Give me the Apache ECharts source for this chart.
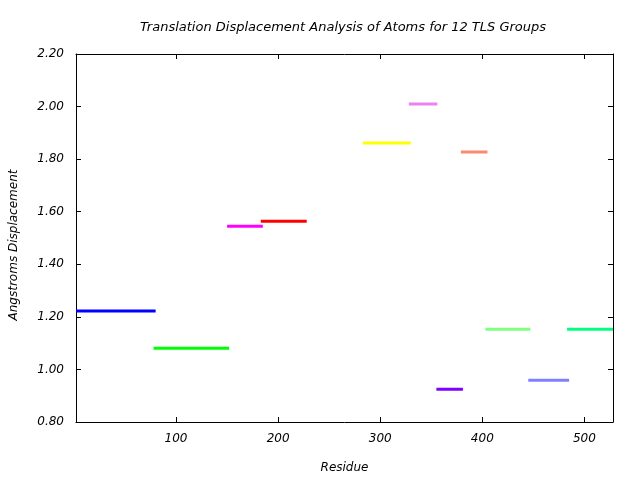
<!DOCTYPE html>
<html><head><meta charset="utf-8">
<script src="https://cdn.jsdelivr.net/npm/echarts@6/dist/echarts.min.js"></script>
<style>html,body{margin:0;padding:0;background:#fff}#c{width:640px;height:480px}</style>
</head><body><div id="c"></div>
<script>
// TLS group residue ranges and displacement values
const groupStart = [2, 78, 150, 183, 283, 328, 355, 379, 403, 445, 483];
const groupEnd   = [80, 152, 185, 228, 330, 356, 381, 405, 447, 485, 528];
const displacement = [1.222, 1.081, 1.545, 1.564, 1.861, 2.010, 0.925, 1.827, 1.153, 0.959, 1.153];
const groupColors = ['#0000ff', '#00ff00', '#ff00ff', '#ff0000', '#ffff00', '#ee82ee', '#8000ff', '#fa8a72', '#80ff80', '#8080ff', '#00ff80'];
const xTickValues = [100, 200, 300, 400, 500];
const yTickValues = [0.8, 1.0, 1.2, 1.4, 1.6, 1.8, 2.0, 2.2];

const font = 'DejaVu Sans';
const chart = echarts.init(document.getElementById('c'), null, {renderer: 'canvas'});

const series = groupStart.map((s, i) => ({
  type: 'line',
  data: [[s, displacement[i]], [groupEnd[i], displacement[i]]],
  showSymbol: false,
  symbol: 'none',
  lineStyle: {color: groupColors[i], width: 3},
  clip: true,
  animation: false,
  silent: true
}));

const axisLineStyle = {show: true, lineStyle: {color: '#000', width: 1}};
const tickStyle = {show: true, inside: true, length: 5, lineStyle: {color: '#000'}};

chart.setOption({
  animation: false,
  graphic: [{
    type: 'text', x: 343, y: 28,
    style: {
      text: 'Translation Displacement Analysis of Atoms for 12 TLS Groups',
      font: 'italic 13px "DejaVu Sans"',
      fill: '#000', align: 'center', verticalAlign: 'middle'
    }
  }, {
    type: 'text', x: 14, y: 245, rotation: Math.PI / 2,
    style: {
      text: 'Angstroms Displacement',
      font: 'italic 12px "DejaVu Sans"',
      fill: '#000', align: 'center', verticalAlign: 'middle'
    }
  }],
  grid: {left: 76, right: 27, top: 54, bottom: 58, containLabel: false},
  xAxis: [{
    type: 'value', min: 2, max: 528, position: 'bottom',
    name: 'Residue', nameLocation: 'middle', nameGap: 40,
    nameTextStyle: {fontFamily: font, fontStyle: 'italic', fontSize: 12, color: '#000'},
    axisLine: axisLineStyle,
    axisTick: Object.assign({customValues: xTickValues}, tickStyle),
    axisLabel: {customValues: xTickValues, fontFamily: font, fontStyle: 'italic', fontSize: 12, color: '#000', margin: 11},
    splitLine: {show: false}
  }, {
    type: 'value', min: 2, max: 528, position: 'top',
    axisLine: axisLineStyle,
    axisTick: Object.assign({customValues: xTickValues}, tickStyle),
    axisLabel: {show: false},
    splitLine: {show: false}
  }],
  yAxis: [{
    type: 'value', min: 0.8, max: 2.2, interval: 0.2, position: 'left',
    axisLine: axisLineStyle,
    axisTick: Object.assign({customValues: yTickValues}, tickStyle),
    axisLabel: {customValues: yTickValues, fontFamily: font, fontStyle: 'italic', fontSize: 12, color: '#000', margin: 12,
      formatter: v => v.toFixed(2)},
    splitLine: {show: false}
  }, {
    type: 'value', min: 0.8, max: 2.2, interval: 0.2, position: 'right',
    axisLine: axisLineStyle,
    axisTick: Object.assign({customValues: yTickValues}, tickStyle),
    axisLabel: {show: false},
    splitLine: {show: false}
  }],
  series: series
});
</script></body></html>
